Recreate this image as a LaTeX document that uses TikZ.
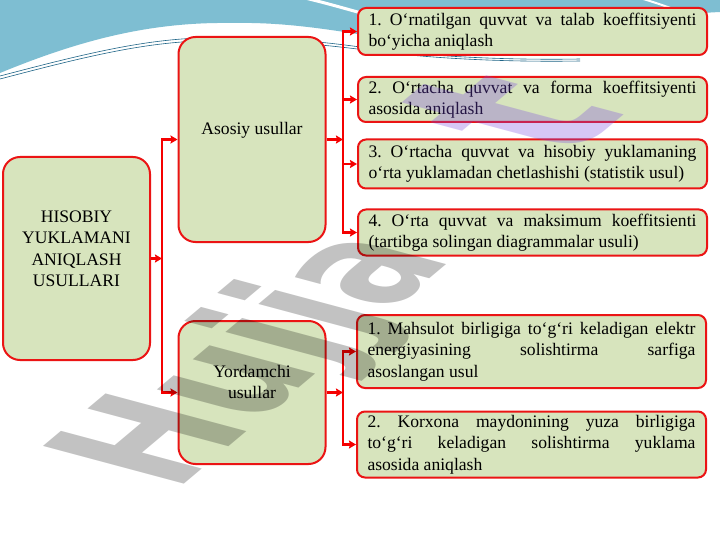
\documentclass[tikz,border=0pt]{standalone}
\usepackage{fontspec}
\setmainfont{Liberation Serif}
\newfontfamily\wmfont{DejaVu Sans}
\usetikzlibrary{arrows.meta}
\frenchspacing
\definecolor{bgblue}{RGB}{126,190,210}
\definecolor{lineblue}{RGB}{30,100,135}
\definecolor{boxgreen}{RGB}{215,228,189}
\definecolor{boxred}{RGB}{235,20,20}
\definecolor{arrred}{RGB}{245,0,0}
\definecolor{wmpurple}{RGB}{120,70,225}
\tikzset{
  bigbox/.style={draw=boxred, line width=2pt, fill=boxgreen, rounded corners=17pt,
    minimum width=147pt, inner sep=0pt},
  sbox/.style={draw=boxred, line width=2pt, fill=boxgreen, rounded corners=8pt,
    text width=328pt, align=justify, inner xsep=10.5pt, inner ysep=0pt,
    font=\fontsize{17.6}{21.5}\selectfont},
  bigtext/.style={align=center, font=\fontsize{17.6}{21.5}\selectfont, inner sep=0pt},
  arr/.style={draw=arrred, line width=2.2pt, -{Stealth[length=7pt,width=8pt,inset=1pt]}},
  wm/.style={font=\wmfont\bfseries\fontsize{125}{125}\selectfont, text=black, text opacity=0.24,
    inner sep=0pt}
}
\begin{document}
\begin{tikzpicture}[x=1pt,y=-1pt]
\useasboundingbox[fill=white] (0,0) rectangle (720,540);
% background decoration
\fill[bgblue] (0,0) -- (720,0) -- (720,12) .. controls (600,18) and (450,40) .. (370,36)
  .. controls (320,28) and (280,22) .. (230,23) .. controls (150,22) and (80,40) .. (0,73) -- cycle;
\draw[white, line width=3pt] (305,-2) .. controls (330,4) and (350,10) .. (372,16);
\draw[white, line width=2pt] (640,-2) .. controls (680,10) and (700,20) .. (722,28);
\draw[lineblue, line width=0.6pt] (0,76) .. controls (80,55) and (140,40) .. (200,38)
  .. controls (270,36) and (330,42) .. (380,50) .. controls (450,58) and (520,60) .. (580,59);
\draw[lineblue, line width=0.6pt] (0,79) .. controls (80,58) and (140,43) .. (200,41)
  .. controls (270,39) and (330,45) .. (380,52) .. controls (450,60) and (520,62) .. (580,61);

% main boxes
\node[bigbox, minimum height=203pt] (left) at (76.5,258.5) {};
\node[bigtext] (lefttxt) at (76.5,249) {HISOBIY\\YUKLAMANI\\ANIQLASH\\USULLARI};
\node[bigbox, minimum height=205pt] (asosiy) at (252,139.5) {};
\node[bigtext] (asosiytxt) at (252,130) {Asosiy usullar};
\node[bigbox, minimum height=143pt] (yord) at (252,392.5) {};
\node[bigtext] (yordtxt) at (252,382) {Yordamchi\\usullar};

% right boxes
\node[sbox, minimum height=47pt] (r1) at (532.5,31.5) {1. O‘rnatilgan quvvat va talab koeffitsiyenti bo‘yicha aniqlash};
\node[sbox, minimum height=45pt] (r2) at (532.5,99.5) {2. O‘rtacha quvvat va forma koeffitsiyenti asosida aniqlash};
\node[sbox, minimum height=49pt] (r3) at (532.5,164) {3. O‘rtacha quvvat va hisobiy yuklamaning o‘rta yuklamadan chetlashishi (statistik usul)};
\node[sbox, minimum height=46pt] (r4) at (532.5,232.5) {4. O‘rta quvvat va maksimum koeffitsienti (tartibga solingan diagrammalar usuli)};
\node[sbox, minimum height=73pt] (r5) at (531.5,351.5) {1. Mahsulot birligiga to‘g‘ri keladigan elektr\linebreak energiyasining solishtirma sarfiga\linebreak asoslangan usul};
\node[sbox, minimum height=66pt] (r6) at (531.5,444.5) {2. Korxona maydonining yuza birligiga\linebreak to‘g‘ri keladigan solishtirma yuklama\linebreak asosida aniqlash};

% connectors
\coordinate (tL) at (162,258.5);
\coordinate (tA) at (343,139.5);
\coordinate (tY) at (343,392.5);
\draw[arr] (left.east) -- (tL);
\draw[arr] (tL) |- (asosiy.west);
\draw[arr] (tL) |- (yord.west);
\draw[arr] (asosiy.east) -- (tA);
\draw[arr] (tA) |- (r1.west);
\draw[arr] (tA) |- (r2.west);
\draw[arr] (tA) |- (r3.west);
\draw[arr] (tA) |- (r4.west);
\draw[arr] (yord.east) -- (tY);
\draw[arr] (tY) |- (r5.west);
\draw[arr] (tY) |- (r6.west);

% watermark
\begin{scope}[shift={(175,492)}, cm={0.766,0.643,-1.546,0.414,(0,0)}]
\node[wm, transform shape, anchor=base west] (wm) at (0,0)
  {Hujja\hspace{150pt}{\pgfsetfillopacity{0.3}\color{wmpurple}\fontsize{165}{165}\selectfont t}};
\end{scope}
\end{tikzpicture}
\end{document}
